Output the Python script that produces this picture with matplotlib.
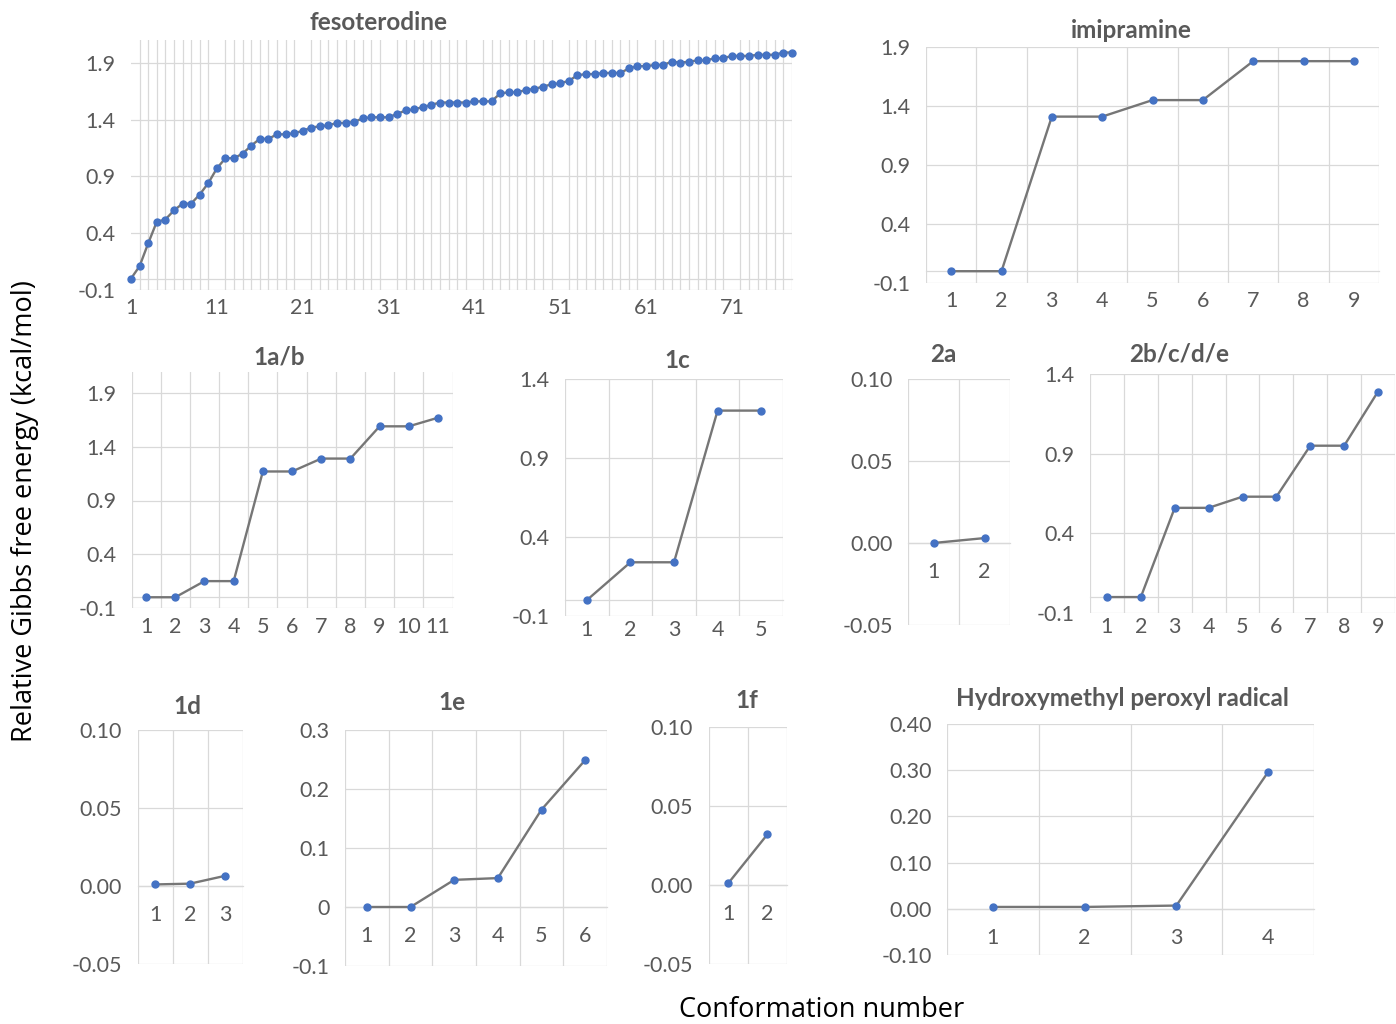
import matplotlib
matplotlib.use("Agg")
import matplotlib.pyplot as plt
import numpy as np

# relative Gibbs free energies (kcal/mol)
fesoterodine = [0.00, 0.11, 0.31, 0.50, 0.52, 0.60, 0.66, 0.66, 0.74, 0.84,
                0.97, 1.06, 1.06, 1.10, 1.17, 1.23, 1.23, 1.27, 1.27, 1.28,
                1.30, 1.33, 1.34, 1.35, 1.37, 1.37, 1.38, 1.41, 1.42, 1.42,
                1.42, 1.45, 1.48, 1.49, 1.51, 1.53, 1.55, 1.55, 1.55, 1.55,
                1.56, 1.56, 1.56, 1.63, 1.64, 1.64, 1.66, 1.67, 1.69, 1.71,
                1.72, 1.74, 1.79, 1.80, 1.80, 1.81, 1.81, 1.81, 1.85, 1.87,
                1.87, 1.88, 1.88, 1.91, 1.90, 1.91, 1.92, 1.92, 1.94, 1.94,
                1.96, 1.96, 1.96, 1.97, 1.97, 1.97, 1.99, 1.99]
imipramine = [0.00, 0.00, 1.31, 1.31, 1.45, 1.45, 1.78, 1.78, 1.78]
c1ab = [0.00, 0.00, 0.15, 0.15, 1.17, 1.17, 1.29, 1.29, 1.59, 1.59, 1.67]
c1c = [0.00, 0.24, 0.24, 1.20, 1.20]
c2a = [0.000, 0.003]
c2bcde = [0.00, 0.00, 0.56, 0.56, 0.63, 0.63, 0.95, 0.95, 1.29]
c1d = [0.001, 0.0015, 0.0065]
c1e = [0.000, 0.000, 0.046, 0.049, 0.165, 0.249]
c1f = [0.001, 0.032]
hmp = [0.004, 0.004, 0.007, 0.296]

W, H = 1396, 1024
grid_col = "#D9D9D9"
text_col = "#595959"
fnt = ["Lato", "DejaVu Sans"]

fig = plt.figure(figsize=(W / 100, H / 100), dpi=100)


def panel(box, vals, ylim, yticks, ylabels, title, tpos, on_ticks=False, xstep=1):
    l, r, t, b = box
    ax = fig.add_axes([l / W, 1 - b / H, (r - l) / W, (b - t) / H])
    n = len(vals)
    x = np.arange(1, n + 1)
    ax.plot(x, vals, color="#767676", lw=1.7, zorder=3, clip_on=False)
    ax.plot(x, vals, ls="none", marker="o", ms=5, color="#4472C4", zorder=4, clip_on=False)
    if on_ticks:
        ax.set_xlim(1, n)
        ax.set_xticks(x[::xstep], [str(v) for v in x[::xstep]])
        ax.set_xticks(x, minor=True)
    else:
        ax.set_xlim(0.5, n + 0.5)
        ax.set_xticks(x, [str(v) for v in x])
        ax.set_xticks(np.arange(0.5, n + 1), minor=True)
    ax.set_ylim(*ylim)
    ax.set_yticks(yticks, ylabels)
    ax.grid(False)
    ax.grid(axis="x", which="minor", color=grid_col, lw=0.9)
    ax.grid(axis="y", which="major", color=grid_col, lw=0.9)
    for s in ["top", "right", "left"]:
        ax.spines[s].set_visible(False)
    ax.spines["bottom"].set_position(("data", 0))
    ax.spines["bottom"].set_color(grid_col)
    ax.spines["bottom"].set_linewidth(0.9)
    ax.tick_params(axis="both", which="both", length=0, labelcolor=text_col, labelsize=15.5)
    ax.tick_params(axis="y", pad=11)
    ax.tick_params(axis="x", pad=14)
    for lab in ax.get_xticklabels() + ax.get_yticklabels():
        lab.set_family(fnt)
    ax.set_facecolor("none")
    fig.text(tpos[0] / W, 1 - tpos[1] / H, title, ha="center", va="center",
             fontsize=17.5, fontweight="bold", color=text_col, family=fnt)
    return ax


t1 = [-0.1, 0.4, 0.9, 1.4, 1.9]
l1 = ["-0.1", "0.4", "0.9", "1.4", "1.9"]
t2 = [-0.05, 0.0, 0.05, 0.10]
l2 = ["-0.05", "0.00", "0.05", "0.10"]

panel((131, 792, 40, 290), fesoterodine, (-0.1, 2.1), t1, l1, "fesoterodine", (379, 22),
      on_ticks=True, xstep=10)
panel((926, 1379, 47, 283), imipramine, (-0.1, 1.9), t1, l1, "imipramine", (1131, 30))
panel((131.5, 452.6, 371.5, 608), c1ab, (-0.1, 2.1), t1, l1, "1a/b", (279, 357))
panel((565, 783, 379, 616), c1c, (-0.1, 1.4), t1[:4], l1[:4], "1c", (677, 361))
panel((908, 1010, 379, 625), c2a, (-0.05, 0.10), t2, l2, "2a", (943, 355))
panel((1090, 1395, 374, 613), c2bcde, (-0.1, 1.4), t1[:4], l1[:4], "2b/c/d/e", (1179, 354))
panel((137.5, 242.5, 730, 964), c1d, (-0.05, 0.10), t2, l2, "1d", (187, 706))
panel((345, 607, 730, 966), c1e, (-0.1, 0.3), [-0.1, 0, 0.1, 0.2, 0.3],
      ["-0.1", "0", "0.1", "0.2", "0.3"], "1e", (452, 702))
panel((708.5, 787, 727, 964), c1f, (-0.05, 0.10), t2, l2, "1f", (747, 701))
panel((947, 1314, 724, 955), hmp, (-0.10, 0.40), [-0.1, 0, 0.1, 0.2, 0.3, 0.4],
      ["-0.10", "0.00", "0.10", "0.20", "0.30", "0.40"],
      "Hydroxymethyl peroxyl radical", (1122, 698))

fig.text(25 / W, 1 - 511 / H, "Relative Gibbs free energy (kcal/mol)", rotation=90,
         ha="center", va="center", fontsize=19.5, color="black", family=["Open Sans", "DejaVu Sans"])
fig.text(822 / W, 1 - 1010 / H, "Conformation number", ha="center", va="center",
         fontsize=19.5, color="black", family=["Open Sans", "DejaVu Sans"])

fig.savefig("out.png", dpi=100)
